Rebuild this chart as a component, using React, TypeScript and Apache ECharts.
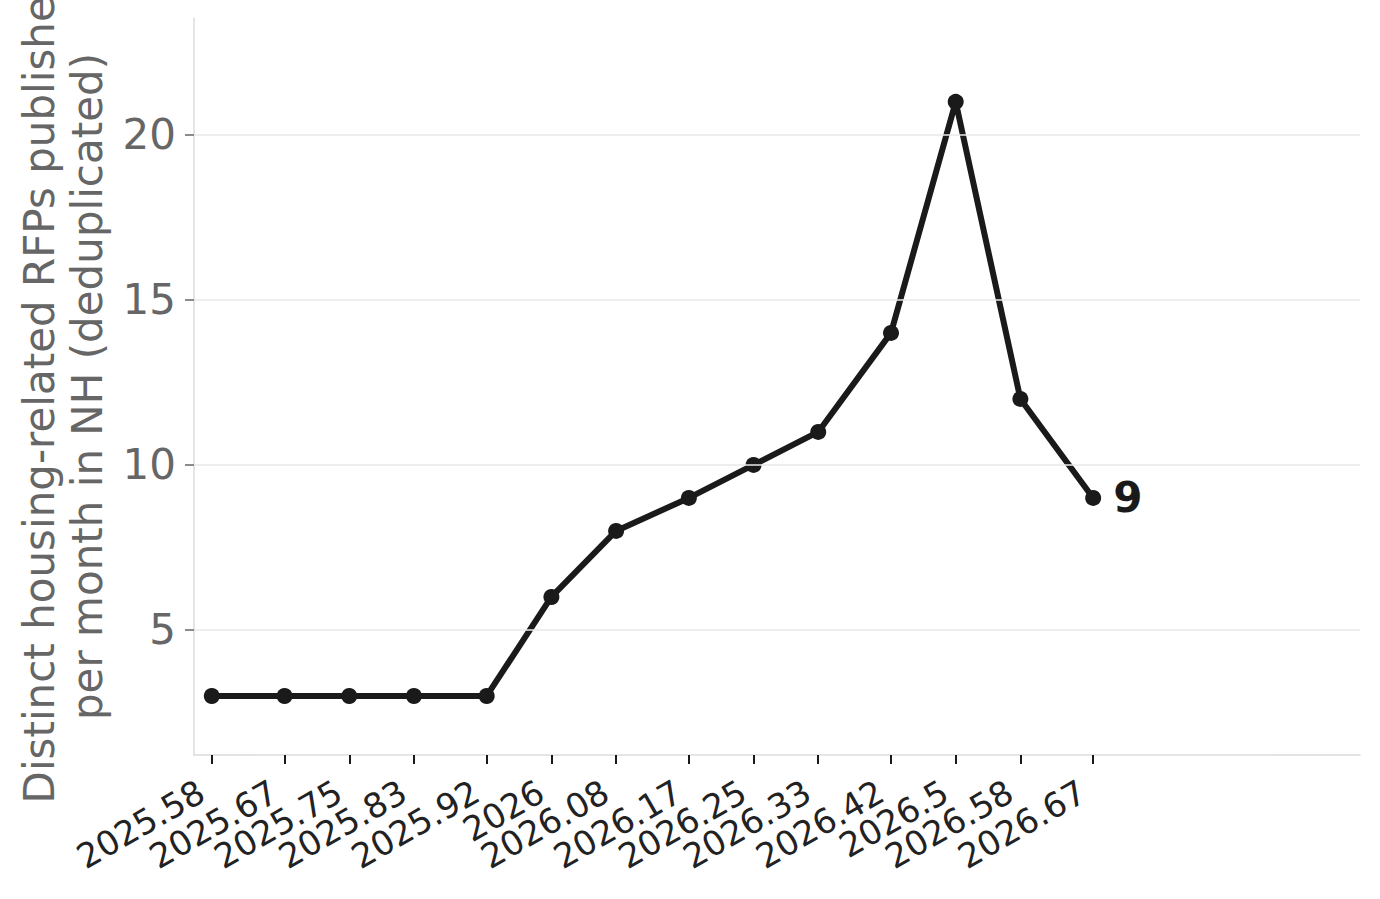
import { useEffect, useRef } from "react";
import * as echarts from "echarts";

// month positions as fractional years (rounded to 2 decimals, as labelled)
const monthPositions = [
  2025.58, 2025.67, 2025.75, 2025.83, 2025.92, 2026, 2026.08, 2026.17, 2026.25,
  2026.33, 2026.42, 2026.5, 2026.58, 2026.67,
];
const rfpCounts = [3, 3, 3, 3, 3, 6, 8, 9, 10, 11, 14, 21, 12, 9];
const yTickValues = [5, 10, 15, 20];

const FONT = "DejaVu Sans";

export default function App() {
  const ref = useRef<HTMLDivElement>(null);

  useEffect(() => {
    if (!ref.current) return;
    const chart = echarts.init(ref.current, undefined, { renderer: "svg" });
    const last = rfpCounts.length - 1;

    chart.setOption({
      animation: false,
      backgroundColor: "#ffffff",
      grid: { left: 194, right: 20, top: 18, bottom: 144, outerBoundsMode: "none" },
      xAxis: {
        type: "value",
        min: 2025.558,
        max: 2027.0,
        axisLine: { show: true, lineStyle: { color: "#dcdcdc", width: 1.5 } },
        axisTick: {
          show: true,
          customValues: monthPositions,
          length: 9,
          lineStyle: { color: "#1a1a1a", width: 2 },
        },
        axisLabel: {
          customValues: monthPositions,
          rotate: 30,
          margin: 28,
          padding: [0, 12, 0, 0],
          fontFamily: FONT,
          fontSize: 34,
          color: "#222222",
          formatter: (v: number) => String(v),
        },
        splitLine: { show: false },
      },
      yAxis: {
        type: "value",
        min: 1.212,
        max: 23.54,
        name: "Distinct housing-related RFPs published\nper month in NH (deduplicated)",
        nameLocation: "middle",
        nameGap: 82,
        nameTextStyle: { fontFamily: FONT, fontSize: 42, color: "#666666", lineHeight: 48 },
        axisLine: { show: true, lineStyle: { color: "#dcdcdc", width: 1.5 } },
        axisTick: {
          show: true,
          customValues: yTickValues,
          length: 9,
          lineStyle: { color: "#666666", width: 1.5 },
        },
        axisLabel: {
          customValues: yTickValues,
          margin: 18,
          fontFamily: FONT,
          fontSize: 42,
          color: "#666666",
        },
        splitLine: { show: false },
      },
      series: [
        {
          type: "line",
          data: [],
          silent: true,
          z: 1,
          markLine: {
            silent: true,
            symbol: ["none", "none"],
            label: { show: false },
            lineStyle: { color: "#e8e8e8", width: 1.5, type: "solid" },
            data: yTickValues.map((v) => ({ yAxis: v })),
          },
        },
        {
          type: "line",
          z: 3,
          data: monthPositions.map((x, i) =>
            i === last
              ? {
                  value: [x, rfpCounts[i]],
                  label: {
                    show: true,
                    position: "right",
                    distance: 12,
                    fontFamily: FONT,
                    fontSize: 42,
                    fontWeight: "bold",
                    color: "#1a1a1a",
                    formatter: (p: { value: number[] }) => String(p.value[1]),
                  },
                }
              : [x, rfpCounts[i]]
          ),
          symbol: "circle",
          symbolSize: 16,
          showAllSymbol: true,
          lineStyle: { color: "#1a1a1a", width: 6 },
          itemStyle: { color: "#1a1a1a" },
        },
      ],
    });

    return () => chart.dispose();
  }, []);

  return <div ref={ref} style={{ width: 1380, height: 899, position: "absolute", left: 0, top: 0 }} />;
}
